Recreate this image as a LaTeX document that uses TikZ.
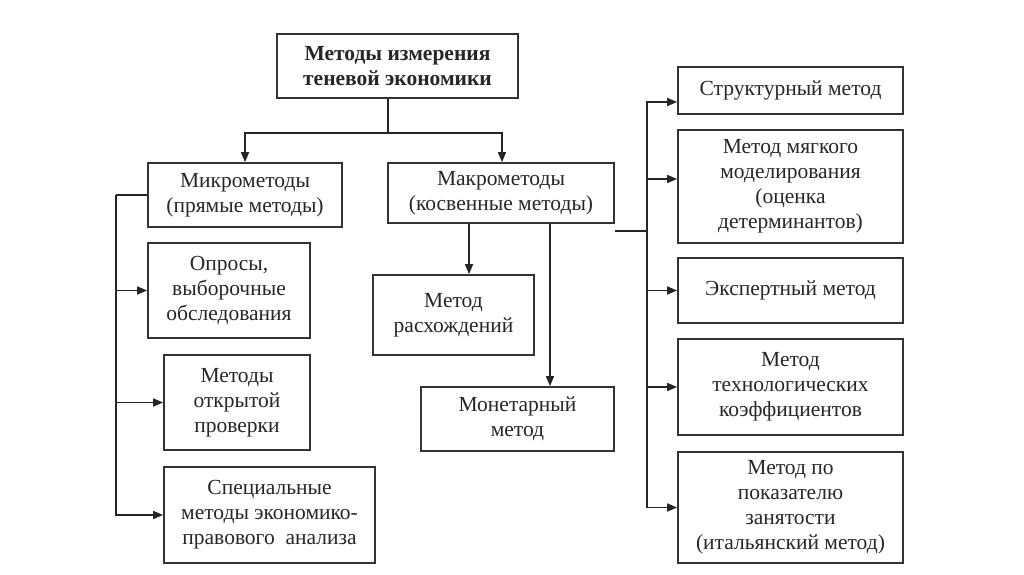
\documentclass[tikz,border=0pt]{standalone}
\usepackage{fontspec}
\setmainfont{Liberation Serif}
\usetikzlibrary{arrows.meta}

\begin{document}
\begin{tikzpicture}[
  x=1pt, y=-1pt,
  every node/.style={font=\fontsize{21.5}{25}\selectfont, align=center, text=black!85},
  block/.style={rectangle, draw=black!80, line width=1.7pt, inner sep=2pt},
  rootblock/.style={block, font=\fontsize{21.5}{25}\selectfont\bfseries},
  line width=1.6pt, draw=black!85,
  >={Triangle[length=10pt, width=8pt]}
  ]

\useasboundingbox (0,0) rectangle (1024,574);

% Nodes (positions in pixels of the scan)
\node[rootblock, minimum width=241pt, minimum height=64pt] (root) at (397.5,66) {Методы измерения\\ теневой экономики};
\node[block, minimum width=194pt, minimum height=64pt] (micro) at (245,195) {Микрометоды\\ (прямые методы)};
\node[block, minimum width=226pt, minimum height=60pt] (macro) at (501,193) {Макрометоды\\ (косвенные методы)};

\node[block, minimum width=162pt, minimum height=95pt] (opros) at (229,290.5) {Опросы,\\ выборочные\\ обследования};
\node[block, minimum width=146pt, minimum height=95pt] (openchk) at (237,402.5) {Методы\\ открытой\\ проверки};
\node[block, minimum width=211pt, minimum height=96pt] (special) at (269.5,515) {Специальные\\ методы экономико-\\ правового\ \ анализа};

\node[block, minimum width=161pt, minimum height=80pt] (rash) at (453.5,315) {Метод\\ расхождений};
\node[block, minimum width=193pt, minimum height=64pt] (monet) at (517.5,419) {Монетарный\\ метод};

\node[block, minimum width=225pt, minimum height=47pt] (struct) at (790.5,90.5) {Структурный метод};
\node[block, minimum width=225pt, minimum height=113pt] (soft) at (790.5,186.5) {Метод мягкого\\ моделирования\\ (оценка\\ детерминантов)};
\node[block, minimum width=225pt, minimum height=65pt] (expert) at (790.5,290.5) {Экспертный метод};
\node[block, minimum width=225pt, minimum height=96pt] (techn) at (790.5,387) {Метод\\ технологических\\ коэффициентов};
\node[block, minimum width=225pt, minimum height=111pt] (ital) at (790.5,507.5) {Метод по\\ показателю\\ занятости\\ (итальянский метод)};

% Arrows from the root
\draw ([xshift=-9.5pt]root.south) -- ++(0,34) coordinate (split);
\draw[->] (split) -| (micro.north);
\draw[->] (split) -| ([xshift=1pt]macro.north);

% Micro methods
\draw (micro.west) -- ++(-31,0) coordinate (lbus);
\draw[->] (lbus) |- (opros.west);
\draw[->] (lbus) |- (openchk.west);
\draw[->] (lbus) |- (special.west);

% Macro methods
\coordinate (m1) at ([xshift=-32pt]macro.south);
\coordinate (m2) at ([xshift=49pt]macro.south);
\draw[->] (m1) -- (m1 |- rash.north);
\draw[->] (m2) -- (m2 |- monet.north);

\draw ([yshift=-7pt]macro.south east) -- ++(32,0) coordinate (rbus);
\draw[->] (rbus) |- ([yshift=-11.5pt]struct.west);
\draw[->] (rbus) |- ([yshift=7.5pt]soft.west);
\draw[->] (rbus) |- (expert.west);
\draw[->] (rbus) |- (techn.west);
\draw[->] (rbus) |- (ital.west);

\end{tikzpicture}
\end{document}
